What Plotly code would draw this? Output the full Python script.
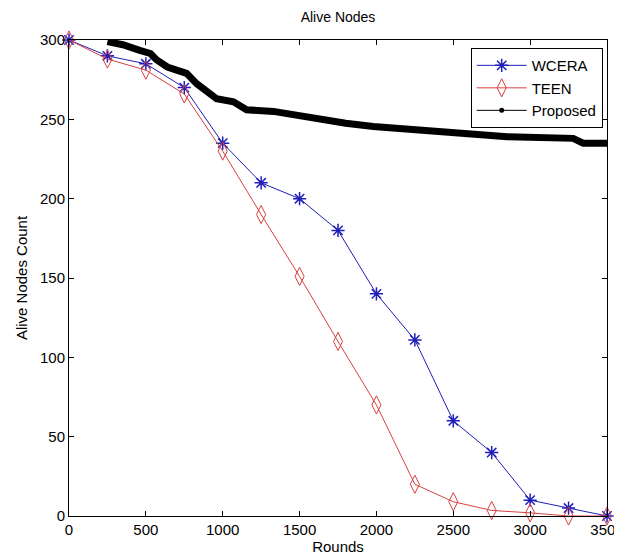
import plotly.graph_objects as go

rounds = [0, 250, 500, 750, 1000, 1250, 1500, 1750, 2000, 2250, 2500, 2750, 3000, 3250, 3500]
wcera = [300, 290, 285, 270, 235, 210, 200, 180, 140, 111, 60, 40, 10, 5, 0]
teen = [300, 288, 281, 266, 230, 190, 151, 110, 70, 20, 9, 3.5, 2, 0, 0]

prop_rounds = [250, 350, 460, 530, 570, 640, 700, 765, 830, 900, 960, 1070, 1155, 1330,
               1480, 1650, 1800, 1980, 2300, 2410, 2850, 3280, 3345, 3500]
proposed = [299, 297, 293.5, 291.5, 287.5, 283, 281, 279, 272.5, 267, 263, 261, 256, 255,
            252.5, 249.5, 247.5, 245.5, 243, 242, 239, 238, 235, 235]

x_ticks = [0, 500, 1000, 1500, 2000, 2500, 3000, 3500]
y_ticks = [0, 50, 100, 150, 200, 250, 300]

BLUE = "#1f1fb8"
RED = "#d84040"
FONT = "Liberation Sans, Arial, sans-serif"

fig = go.Figure()
fig.add_trace(go.Scatter(
    x=rounds, y=wcera, mode="lines+markers", name="WCERA",
    line=dict(color=BLUE, width=1),
    marker=dict(symbol="asterisk-open", size=11, color=BLUE, line=dict(color=BLUE, width=1.5)),
    cliponaxis=False))
fig.add_trace(go.Scatter(
    x=rounds, y=teen, mode="lines+markers", name="TEEN",
    line=dict(color=RED, width=1),
    marker=dict(symbol="diamond-tall-open", size=13, color=RED, line=dict(color=RED, width=1)),
    cliponaxis=False))
fig.add_trace(go.Scatter(
    x=prop_rounds, y=proposed, mode="lines", name="Proposed", showlegend=False,
    line=dict(color="black", width=7), cliponaxis=False))
fig.add_trace(go.Scatter(
    x=[None], y=[None], mode="lines+markers", name="Proposed",
    line=dict(color="black", width=1),
    marker=dict(symbol="circle", size=5, color="black")))

axis_common = dict(
    showline=True, linecolor="black", linewidth=1, mirror="ticks",
    ticks="inside", ticklen=5, tickcolor="black", showgrid=False, zeroline=False,
    tickfont=dict(family=FONT, size=15, color="black"), automargin=False,
    ticklabeloverflow="allow",
)
fig.update_xaxes(range=[0, 3500], tickvals=x_ticks, ticktext=[str(v) for v in x_ticks],
                 title=dict(text="Rounds", font=dict(family=FONT, size=15, color="black"), standoff=2),
                 **axis_common)
fig.update_yaxes(range=[0, 300], tickvals=y_ticks, ticktext=[str(v) for v in y_ticks],
                 title=dict(text="Alive Nodes Count", font=dict(family=FONT, size=15, color="black"), standoff=8),
                 **axis_common)

# page body has an 8px default margin, so the figure is sized/offset to compensate
fig.update_layout(
    width=622, height=552,
    margin=dict(l=61, r=23, t=32, b=44),
    paper_bgcolor="white", plot_bgcolor="white",
    title=dict(text="Alive Nodes", x=0.5, xref="paper", y=0.984, yanchor="middle",
               font=dict(family=FONT, size=14, color="black")),
    legend=dict(x=0.992, y=0.983, xanchor="right", yanchor="top",
                bgcolor="white", bordercolor="black", borderwidth=1,
                font=dict(family=FONT, size=15, color="black"),
                tracegroupgap=0, itemwidth=50),
    showlegend=True,
)

fig.write_html("out.html")
